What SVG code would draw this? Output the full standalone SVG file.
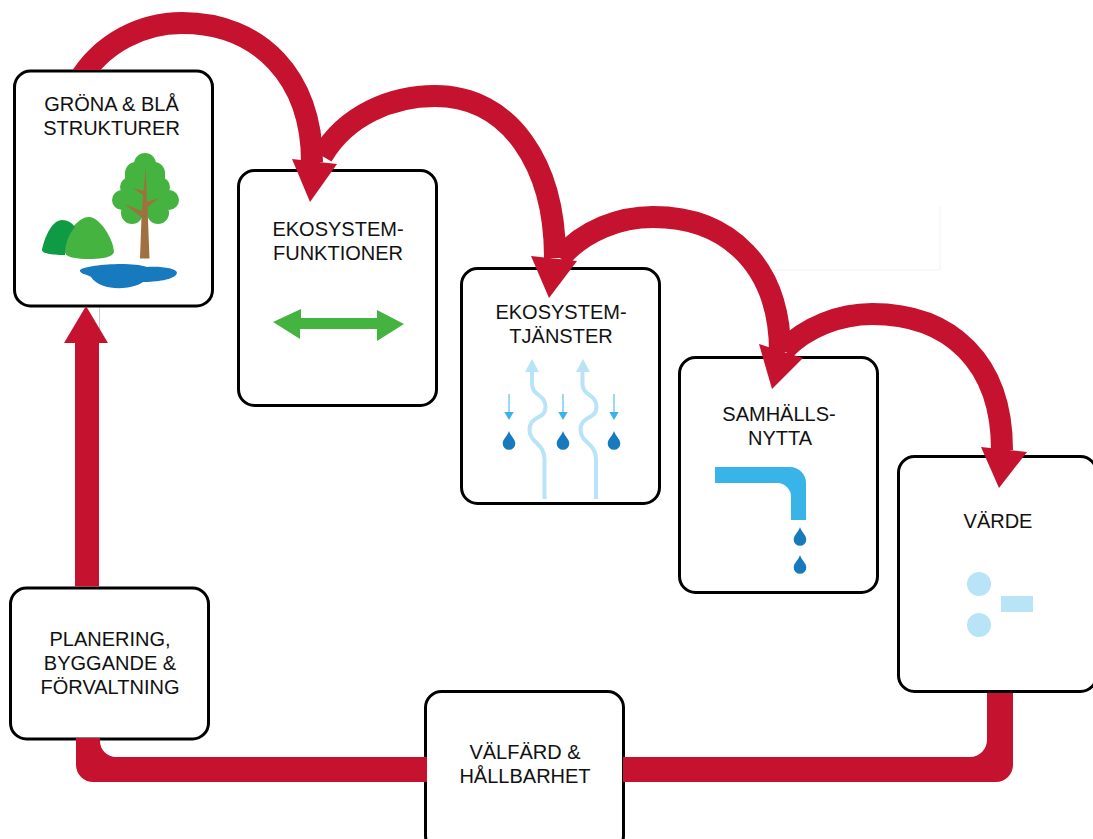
<svg xmlns="http://www.w3.org/2000/svg" width="1093" height="839" viewBox="0 0 1093 839">
<style>
.box{fill:#fff;stroke:#000;stroke-width:3}
.c{fill:none;stroke:#c4122f;stroke-width:22}
.h{fill:#c4122f}
text{font-family:"Liberation Sans",Arial,sans-serif;font-size:20px;text-anchor:middle;fill:#111}
.g{fill:#45b340}.lb{fill:#b9e3f7}.mb{fill:#39b4e8}.db{fill:#1779be}
.w{fill:none;stroke:#b9e3f7;stroke-width:4}
</style>
<defs>
<path id="drop" d="M0 -11C1.500 -6 6.300 -3 6.300 1.500A6.300 6.300 0 0 1 -6.300 1.500C-6.300 -3 -1.500 -6 0 -11Z" class="db"/>
<g id="sa"><path d="M0 0V20" stroke="#39b4e8" stroke-width="1" fill="none"/><path d="M-4.700 18H4.700L0 26Z" class="mb"/></g>
<clipPath id="abovebox"><path d="M0 0H1093V300H200V70H0Z"/></clipPath>
</defs>
<rect width="1093" height="839" fill="#fff"/>
<path d="M770 270H940V206" fill="none" stroke="#f2f2f2" stroke-width="1"/>
<path d="M99.500 306V330" stroke="#ccc" stroke-width="1"/>
<path d="M629.500 450V465" stroke="#f2f2f2" stroke-width="1"/>
<g id="n1"><rect class="box" x="14.500" y="71" width="198" height="235" rx="16"/>
<text x="111.500" y="111">GRÖNA &amp; BLÅ</text><text x="111.500" y="135">STRUKTURER</text>
<path class="g" d="M65 252C64 238 76 217 89 217C100 217 114 240 114 252C112 258 100 259 89 259C75 259 65 257 65 252Z"/>
<path d="M42 250C45 235 53 220 62 220C68 220 72 223 75 227C68 235 65 245 65 255C55 255 42 254 42 250Z" fill="#0f9b44"/>
<g class="g"><circle cx="145" cy="164" r="11"/><circle cx="136" cy="173" r="11"/><circle cx="154" cy="173" r="11"/><circle cx="130" cy="187" r="10"/><circle cx="160" cy="187" r="10"/><circle cx="122" cy="200" r="10"/><circle cx="169" cy="200" r="10"/><circle cx="132" cy="213" r="11"/><circle cx="158" cy="213" r="11"/><rect x="125" y="172" width="40" height="45"/></g>
<path d="M145.700 168L147 202L159 198L147.500 207L149.500 258.500H140L141.500 217L124 204L142 211L143 195L133 188L143.500 191Z" fill="#a0703f"/>
<path class="db" d="M80 270C85 265 130 261 147 267C160 266 177 268 177 273C175 280 155 282 143 282C130 291 100 291 91 277C87 274 79 274 80 270Z"/>
</g>
<g id="n2"><rect class="box" x="238.500" y="170.500" width="198" height="235" rx="16"/>
<text x="338" y="236">EKOSYSTEM-</text><text x="338" y="260">FUNKTIONER</text>
<path class="g" d="M273 322L301 309V318H377V310L404 324L377 341V329H300V339Z"/>
</g>
<g id="n3"><rect class="box" x="461.500" y="268.500" width="198" height="235" rx="16"/>
<text x="561" y="319">EKOSYSTEM-</text><text x="561" y="343">TJÄNSTER</text>
<path class="lb" d="M532 359L539 372H525Z M583 359L590 372H576Z"/>
<path class="w" d="M532 370V384C532 396 545.500 394 545.500 407C545.500 420 529.500 415 529.500 430C529.500 443 544.500 443 544.500 459V499"/>
<path class="w" d="M582.500 370V384C582.500 396 596.500 394 596.500 407C596.500 420 580.500 415 580.500 430C580.500 443 596 443 596 459V499"/>
<use href="#sa" x="509" y="394"/><use href="#sa" x="563" y="394"/><use href="#sa" x="614" y="394"/>
<use href="#drop" x="509" y="442"/><use href="#drop" x="563" y="442"/><use href="#drop" x="614" y="442"/>
</g>
<g id="n4"><rect class="box" x="679.500" y="357.500" width="198" height="235" rx="16"/>
<text x="779" y="421">SAMHÄLLS-</text><text x="780" y="445">NYTTA</text>
<path class="mb" d="M715 467H790A16 16 0 0 1 806 483V520H791V497A14 14 0 0 0 777 483H715Z"/>
<use href="#drop" x="800" y="538"/><use href="#drop" x="800" y="566"/>
</g>
<g id="n5"><rect class="box" x="898.500" y="456.500" width="198" height="235" rx="16"/>
<text x="998" y="528">VÄRDE</text>
<circle class="lb" cx="979" cy="584" r="12"/><circle class="lb" cx="979" cy="625" r="12"/><rect class="lb" x="1001" y="596" width="32" height="16"/>
</g>
<g id="n6"><rect class="box" x="10.500" y="588" width="198" height="151" rx="16"/>
<text x="110" y="646">PLANERING,</text><text x="110" y="670">BYGGANDE &amp;</text><text x="110" y="694">FÖRVALTNING</text>
</g>
<g id="n7"><rect class="box" x="425.500" y="691.500" width="198" height="160" rx="16"/>
<text x="525" y="759">VÄLFÄRD &amp;</text><text x="525" y="783">HÅLLBARHET</text>
</g>
<g id="connectors">
<path class="h" d="M987 693H1013V765A17 17 0 0 1 996 782H623V757H970A17 17 0 0 0 987 740Z"/>
<path class="h" d="M427 757H116A16 16 0 0 1 100 741V738H76V765A17 17 0 0 0 93 782H427Z"/>
<path class="h" d="M75 586.500V340H99V586.500Z"/>
<path class="h" d="M86 306L108 343H64Z"/>
<path class="c" clip-path="url(#abovebox)" d="M78 82C102 42 143 23 182 23C260 23 312 78 312 162"/>
<path class="h" d="M292 159L337 164L310 202Z"/>
<path class="c" d="M322 156C346 115 392 96 435 96C510 96 555 165 555 258"/>
<path class="h" d="M531 256L577 261L549 298Z"/>
<path class="c" d="M560 258C584 230 620 217 653 217C730 217 780 268 780 352"/>
<path class="h" d="M759 344L803 358L772 389Z"/>
<path class="c" d="M784 350C806 327 840 314 872 314C950 314 1002 362 1002 450"/>
<path class="h" d="M981 447L1027 452L999 488Z"/>
</g>
</svg>
